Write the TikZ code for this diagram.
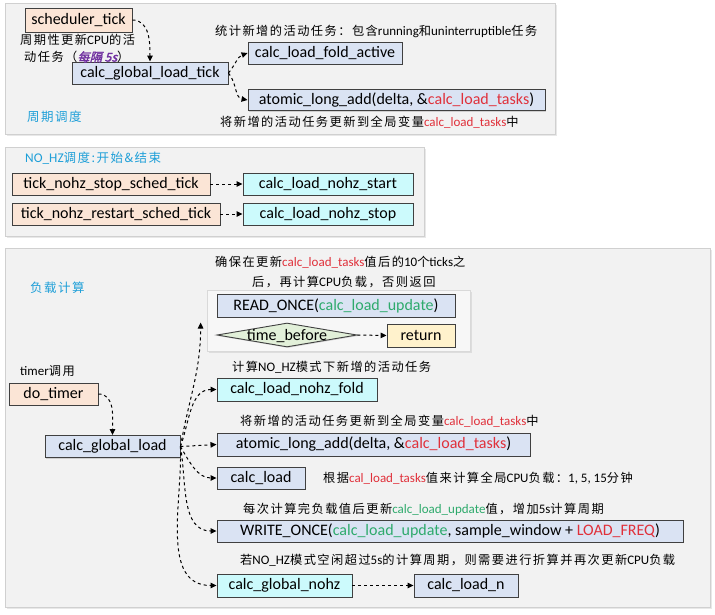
\documentclass[tikz,border=0pt]{standalone}
\usepackage{fontspec}
\setmainfont{Carlito}
\newfontfamily\cjk[LetterSpace=12,Scale=0.94]{Noto Sans CJK SC}
\newfontfamily\cjkit[FakeSlant=0.25,FakeBold=2,Scale=0.94]{Noto Sans CJK SC}
\newcommand\zh[1]{{\cjk #1}}
\usetikzlibrary{arrows.meta,shapes.geometric,shadows}
\definecolor{panelfill}{HTML}{F2F2F2}
\definecolor{panelline}{HTML}{D0D0D0}
\definecolor{boxblue}{HTML}{DAE3F3}
\definecolor{peach}{HTML}{FBE5D6}
\definecolor{cyanbox}{HTML}{CCFAFC}
\definecolor{greenbox}{HTML}{E2F0D9}
\definecolor{yellowbox}{HTML}{FFF2CC}
\definecolor{txtred}{HTML}{E0303A}
\definecolor{txtgreen}{HTML}{2EAA6C}
\definecolor{lblblue}{HTML}{1E9FD8}
\definecolor{purp}{HTML}{7030A0}
\newcommand\rd[1]{\textcolor{txtred}{#1}}
\newcommand\gr[1]{\textcolor{txtgreen}{#1}}
\tikzset{
  panel/.style={draw=panelline, fill=panelfill, line width=0.8pt,
    drop shadow={shadow xshift=2pt,shadow yshift=-2pt,opacity=0.18}},
  box/.style={draw=black!75, line width=0.9pt, inner sep=0pt,
    font=\fontsize{16}{18}\selectfont,
    drop shadow={shadow xshift=1pt,shadow yshift=-1pt,opacity=0.3}},
  ann/.style={anchor=west, inner sep=0pt, font=\fontsize{13}{15}\selectfont},
  lbl/.style={anchor=west, inner sep=0pt, text=lblblue, font=\fontsize{13.3}{15}\selectfont},
  conn/.style={dashed, line width=1pt, -{Triangle[length=6pt,width=5.5pt]}},
}
\begin{document}
\begin{tikzpicture}[x=1pt,y=-1pt]
\useasboundingbox (0,0) rectangle (715,614);
\fill[white] (0,0) rectangle (715,614);

% ---------- panel 1 ----------
\node[panel, minimum width=550, minimum height=131, anchor=north west] (p1) at (5,3) {};
\node[box, fill=peach, minimum width=107, minimum height=24] (st) at (78.5,20) {scheduler\_tick};
\node[box, fill=boxblue, minimum width=156, minimum height=22] (cglt) at (150,73) {calc\_global\_load\_tick};
\node[box, fill=boxblue, minimum width=154, minimum height=22] (fold) at (325,53) {calc\_load\_fold\_active};
\node[box, fill=boxblue, minimum width=297, minimum height=21] (atom1) at (396.5,100) {atomic\_long\_add(delta, \&\rd{calc\_load\_tasks})};
\node[ann] (a1) at (215,31) {\zh{统计新增的活动任务：包含}running\zh{和}uninterruptible\zh{任务}};
\node[ann] (a2) at (220,122) {\zh{将新增的活动任务更新到全局变量}\rd{calc\_load\_tasks}\zh{中}};
\node[ann] (a3) at (20,40) {\zh{周期性更新}CPU\zh{的活}};
\node[ann] (a4) at (24,57) {\zh{动任务（}\textcolor{purp}{\cjkit 每隔 5s}\zh{）}};
\node[lbl] (l1) at (27,117) {\zh{周期调度}};
\draw[conn] (st.east) to[out=0,in=90] (cglt.north);
\draw[conn] (cglt.east) to[out=50,in=200] (fold.west);
\draw[conn] (cglt.east) to[out=-50,in=170] (atom1.west);

% ---------- panel 2 ----------
\node[panel, minimum width=419, minimum height=89, anchor=north west] (p2) at (5,147) {};
\node[lbl] (l2) at (25,158) {NO\_HZ\zh{调度:开始\&结束}};
\node[box, fill=peach, minimum width=198, minimum height=22] (ps) at (111,184) {tick\_nohz\_stop\_sched\_tick};
\node[box, fill=cyanbox, minimum width=170, minimum height=22] (ns) at (328,184) {calc\_load\_nohz\_start};
\node[box, fill=peach, minimum width=208, minimum height=22] (pr) at (116,214) {tick\_nohz\_restart\_sched\_tick};
\node[box, fill=cyanbox, minimum width=170, minimum height=22] (nst) at (328,214) {calc\_load\_nohz\_stop};
\draw[conn] (ps.east) -- (ns.west);
\draw[conn] (pr.east) -- (nst.west);

% ---------- panel 3 ----------
\node[panel, minimum width=705, minimum height=359, anchor=north west] (p3) at (5,248) {};
\node[lbl] (l3) at (30,288) {\zh{负载计算}};
\node[ann] (b1) at (215,262) {\zh{确保在更新}\rd{calc\_load\_tasks}\zh{值后的}10\zh{个}ticks\zh{之}};
\node[ann] (b2) at (252,282) {\zh{后，再计算}CPU\zh{负载，否则返回}};
\node[panel, draw=panelline!80, fill=panelfill!60, minimum width=263, minimum height=61] (grp) at (338.5,320.5) {};
\node[box, fill=boxblue, minimum width=238, minimum height=23] (ro) at (336,305.5) {READ\_ONCE(\gr{calc\_load\_update})};
\node[box, diamond, fill=greenbox, minimum width=140, minimum height=24] (tb) at (287,335) {\makebox[0pt]{\raisebox{-0.33em}[0pt][0pt]{time\_before}}};
\node[box, fill=yellowbox, minimum width=68, minimum height=23] (ret) at (421,335.5) {return};
\draw[conn] (tb.east) -- (ret.west);

\node[ann] (b3) at (20,371) {timer\zh{调用}};
\node[box, fill=peach, minimum width=89, minimum height=22] (dt) at (53.5,394) {do\_timer};
\node[box, fill=boxblue, minimum width=135, minimum height=22] (cgl) at (112.5,446.5) {calc\_global\_load};
\draw[conn] (dt.east) to[out=0,in=90] (cgl.north);

\node[ann] (b4) at (232,367) {\zh{计算}NO\_HZ\zh{模式下新增的活动任务}};
\node[box, fill=cyanbox, minimum width=160, minimum height=23] (nf) at (297,389.5) {calc\_load\_nohz\_fold};
\node[ann] (b5) at (240,421) {\zh{将新增的活动任务更新到全局变量}\rd{calc\_load\_tasks}\zh{中}};
\node[box, fill=boxblue, minimum width=313, minimum height=23] (atom2) at (373.5,444.5) {atomic\_long\_add(delta, \&\rd{calc\_load\_tasks})};
\node[box, fill=boxblue, minimum width=88, minimum height=22] (cl) at (261,478) {calc\_load};
\node[ann] (b6) at (323,478) {\zh{根据}\rd{cal\_load\_tasks}\zh{值来计算全局}CPU\zh{负载：}1, 5, 15\zh{分钟}};
\node[ann] (b7) at (243,509) {\zh{每次计算完负载值后更新}\gr{calc\_load\_update}\zh{值，增加}5s\zh{计算周期}};
\node[box, fill=boxblue, minimum width=466, minimum height=22] (wo) at (450,531) {WRITE\_ONCE(\gr{calc\_load\_update}, sample\_window + \rd{LOAD\_FREQ})};
\node[ann] (b8) at (240,560) {\zh{若}NO\_HZ\zh{模式空闲超过}5s\zh{的计算周期，则需要进行折算并再次更新}CPU\zh{负载}};
\node[box, fill=cyanbox, minimum width=135, minimum height=23] (gn) at (284.5,585.5) {calc\_global\_nohz};
\node[box, fill=boxblue, minimum width=104, minimum height=23] (ln) at (466,585.5) {calc\_load\_n};
\draw[conn] (gn.east) -- (ln.west);

\draw[conn] (cgl.east) to[out=80,in=-90] ([xshift=-6pt,yshift=-2pt]grp.west);
\draw[conn] (cgl.east) to[out=70,in=180] (nf.west);
\draw[conn] (cgl.east) -- (atom2.west);
\draw[conn] (cgl.east) to[out=-60,in=180] (cl.west);
\draw[conn] (cgl.east) to[out=-80,in=180] (wo.west);
\draw[conn] (cgl.east) to[out=-88,in=180] (gn.west);
\end{tikzpicture}
\end{document}
